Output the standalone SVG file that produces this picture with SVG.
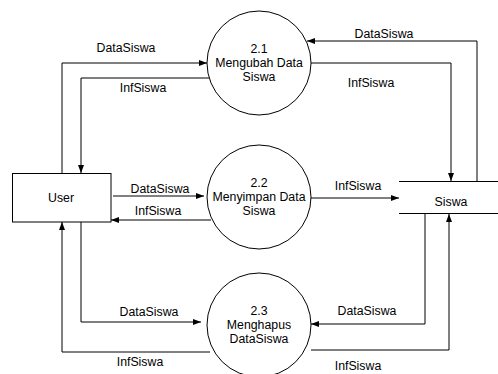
<svg xmlns="http://www.w3.org/2000/svg" width="498" height="374" viewBox="0 0 498 374">
<defs>
<marker id="arr" markerUnits="userSpaceOnUse" markerWidth="9" markerHeight="7" refX="8" refY="3" orient="auto">
<path d="M0,0 L8,3 L0,6 z" fill="#000"/>
</marker>
<style>
.ln{fill:none;stroke:#000;stroke-width:1;marker-end:url(#arr)}
.nd{fill:#fff;stroke:#000;stroke-width:1}
text{font-family:"Liberation Sans",Arial,sans-serif;font-size:12.3px;fill:#000;text-anchor:middle}
</style>
</defs>
<rect width="498" height="374" fill="#fff"/>
<g id="connectors">
<polyline class="ln" points="62,173 62,63 207,63"/>
<polyline class="ln" points="209,78 81,78 81,173"/>
<polyline class="ln" points="477,181 477,41 307,41"/>
<polyline class="ln" points="311,63 451,63 451,181"/>
<line class="ln" x1="113" y1="196" x2="204" y2="196"/>
<line class="ln" x1="211" y1="220" x2="111" y2="220"/>
<line class="ln" x1="311" y1="198" x2="399" y2="198"/>
<polyline class="ln" points="81,222 81,322 201,322"/>
<polyline class="ln" points="210,352 62,352 62,222"/>
<polyline class="ln" points="425,214 425,324 311,324"/>
<polyline class="ln" points="311,350 449,350 449,214"/>
<text x="126" y="52">DataSiswa</text>
<text x="143" y="92">InfSiswa</text>
<text x="384" y="38">DataSiswa</text>
<text x="371" y="87">InfSiswa</text>
<text x="160" y="193">DataSiswa</text>
<text x="158" y="215">InfSiswa</text>
<text x="358" y="190">InfSiswa</text>
<text x="149" y="316">DataSiswa</text>
<text x="140" y="366">InfSiswa</text>
<text x="367" y="315">DataSiswa</text>
<text x="358" y="370">InfSiswa</text>
</g>
<g id="user">
<rect class="nd" x="12.5" y="173.5" width="98.5" height="48.5"/>
<text x="61" y="202">User</text>
</g>
<g id="p21">
<circle class="nd" cx="259" cy="63" r="52"/>
<text x="259" y="53">2.1</text>
<text x="259" y="67">Mengubah Data</text>
<text x="259" y="81">Siswa</text>
</g>
<g id="p22">
<circle class="nd" cx="259" cy="197" r="52"/>
<text x="259" y="187">2.2</text>
<text x="259" y="201">Menyimpan Data</text>
<text x="259" y="215">Siswa</text>
</g>
<g id="p23">
<circle class="nd" cx="259" cy="325" r="52"/>
<text x="259" y="315">2.3</text>
<text x="259" y="329">Menghapus</text>
<text x="259" y="343">DataSiswa</text>
</g>
<g id="siswa">
<line x1="399" y1="181.5" x2="498" y2="181.5" stroke="#000"/>
<line x1="399" y1="213.5" x2="498" y2="213.5" stroke="#000"/>
<text x="451" y="206">Siswa</text>
</g>
</svg>
